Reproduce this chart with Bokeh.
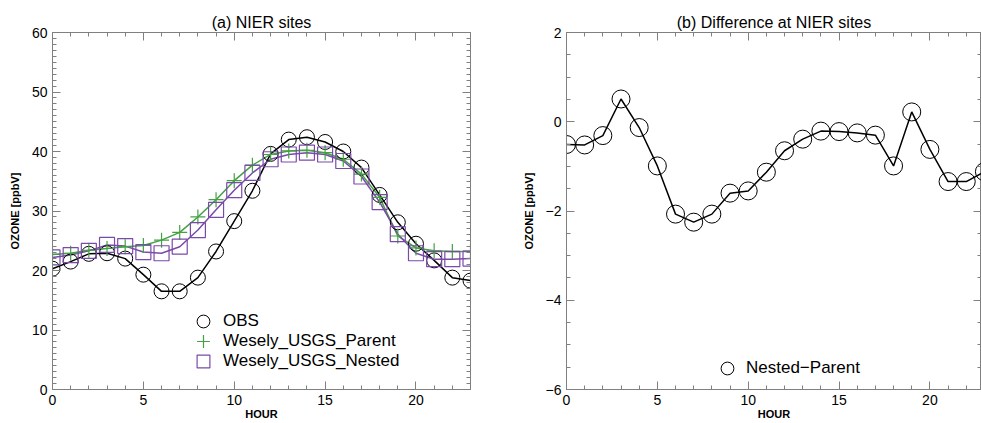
from bokeh.plotting import figure
from bokeh.layouts import row
from bokeh.models import (LinearAxis, Legend, LegendItem, Range1d,
                          SingleIntervalTicker)
from bokeh.embed import file_html
from bokeh.resources import INLINE

# ---------------- data ----------------
hours = list(range(24))
obs = [20.3, 21.5, 22.8, 22.9, 22.0, 19.3, 16.5, 16.5, 18.8, 23.2, 28.3, 33.4,
       39.6, 42.0, 42.4, 41.6, 40.0, 37.3, 32.7, 28.1, 24.5, 21.7, 18.8, 18.3]
parent = [22.7, 22.9, 23.4, 23.7, 24.0, 24.2, 25.1, 26.4, 29.0, 31.9, 35.1, 37.7,
          39.5, 40.1, 40.2, 39.8, 38.7, 36.2, 32.3, 25.8, 23.8, 23.3, 23.2, 23.2]
nested = [22.2, 22.6, 23.3, 24.3, 24.1, 23.1, 22.9, 24.0, 26.8, 30.2, 33.5, 36.4,
          38.7, 39.5, 39.8, 39.5, 38.4, 35.8, 31.5, 26.1, 22.9, 21.9, 21.9, 22.0]
diff = [-0.51, -0.52, -0.31, 0.51, -0.13, -0.99, -2.07, -2.25, -2.07, -1.60,
        -1.55, -1.13, -0.65, -0.39, -0.21, -0.22, -0.25, -0.30, -0.99, 0.22,
        -0.62, -1.34, -1.34, -1.12]

GREEN = "#44a044"
PURPLE = "#7a4aaa"
AXC = "#808080"
FONT = "Liberation Sans"


def style(p, xtick, ytick, ylabel):
    p.xaxis.ticker = xtick
    p.yaxis.ticker = ytick
    p.xgrid.visible = False
    p.ygrid.visible = False
    p.outline_line_color = AXC
    p.xaxis.axis_label = "HOUR"
    p.yaxis.axis_label = ylabel
    for ax in (p.xaxis[0], p.yaxis[0]):
        ax.axis_line_color = AXC
        ax.major_tick_line_color = AXC
        ax.minor_tick_line_color = AXC
        ax.major_tick_in = 8
        ax.major_tick_out = 0
        ax.minor_tick_in = 4
        ax.minor_tick_out = 0
        ax.major_label_text_font = FONT
        ax.major_label_text_font_size = "14px"
        ax.major_label_text_color = "black"
        ax.axis_label_text_font = FONT
        ax.axis_label_text_font_size = "11px"
        ax.axis_label_text_font_style = "bold"
        ax.axis_label_text_color = "black"
    p.xaxis.major_label_standoff = 5
    p.xaxis.axis_label_standoff = 0
    p.yaxis.major_label_standoff = 5
    p.yaxis.axis_label_standoff = 8
    for loc, tk in (("above", xtick), ("right", ytick)):
        ax = LinearAxis(ticker=tk)
        ax.axis_line_color = AXC
        ax.major_tick_line_color = AXC
        ax.minor_tick_line_color = AXC
        ax.major_tick_in = 8
        ax.major_tick_out = 0
        ax.minor_tick_in = 4
        ax.minor_tick_out = 0
        ax.major_label_text_font_size = "0px"
        ax.major_label_standoff = 0
        ax.major_label_text_color = None
        p.add_layout(ax, loc)
    p.title.align = "center"
    p.title.text_font = FONT
    p.title.text_font_size = "16px"
    p.title.text_font_style = "normal"
    p.title.text_color = "black"
    p.title.standoff = 4


def make_legend(label, renderer, loc, standoff):
    lg = Legend(items=[LegendItem(label=label, renderers=[renderer])],
                location=loc, label_standoff=standoff)
    lg.border_line_color = None
    lg.background_fill_alpha = 0
    lg.padding = 0
    lg.margin = 0
    lg.glyph_width = 32
    lg.glyph_height = 32
    lg.spacing = 0
    lg.label_text_font = FONT
    lg.label_text_font_size = "17px"
    lg.label_text_color = "black"
    return lg


# ---------------- left panel ----------------
p1 = figure(width=480, height=423, output_backend="svg", toolbar_location=None,
            x_range=Range1d(0, 23), y_range=Range1d(0, 60),
            title="(a) NIER sites",
            min_border_left=52, min_border_right=10, min_border_top=32,
            min_border_bottom=34)
style(p1, SingleIntervalTicker(interval=5, num_minor_ticks=5),
      SingleIntervalTicker(interval=10, num_minor_ticks=10), "OZONE [ppbV]")

p1.line(hours, obs, line_color="black", line_width=1.5)
p1.line(hours, parent, line_color=GREEN, line_width=1.5)
p1.line(hours, nested, line_color=PURPLE, line_width=1.5)
r_obs = p1.scatter(hours, obs, marker="circle", size=15, fill_color=None,
                   line_color="black", line_width=1)
r_par = p1.scatter(hours, parent, marker="cross", size=15,
                   line_color=GREEN, line_width=1.2)
r_nes = p1.scatter(hours, nested, marker="square", size=15, fill_color=None,
                   line_color=PURPLE, line_width=1.2)

p1.add_layout(make_legend("OBS", r_obs, (135, 52), 4))
p1.add_layout(make_legend("Wesely_USGS_Parent", r_par, (135, 32), 4))
p1.add_layout(make_legend("Wesely_USGS_Nested", r_nes, (135, 12), 4))

# ---------------- right panel ----------------
p2 = figure(width=501, height=423, output_backend="svg", toolbar_location=None,
            x_range=Range1d(0, 22.84), y_range=Range1d(-6, 2),
            title="(b) Difference at NIER sites",
            min_border_left=86, min_border_right=0, min_border_top=32,
            min_border_bottom=34)
style(p2, SingleIntervalTicker(interval=5, num_minor_ticks=5),
      SingleIntervalTicker(interval=2, num_minor_ticks=4), "OZONE [ppbV]")
p2.line(hours, diff, line_color="black", line_width=1.5)
r_dif = p2.scatter(hours, diff, marker="circle", size=18, fill_color=None,
                   line_color="black", line_width=1)
p2.add_layout(make_legend("Nested\u2212Parent", r_dif, (145, 5), 3))

layout = row(p1, p2)
open("out.html", "w").write(file_html(layout, INLINE))
